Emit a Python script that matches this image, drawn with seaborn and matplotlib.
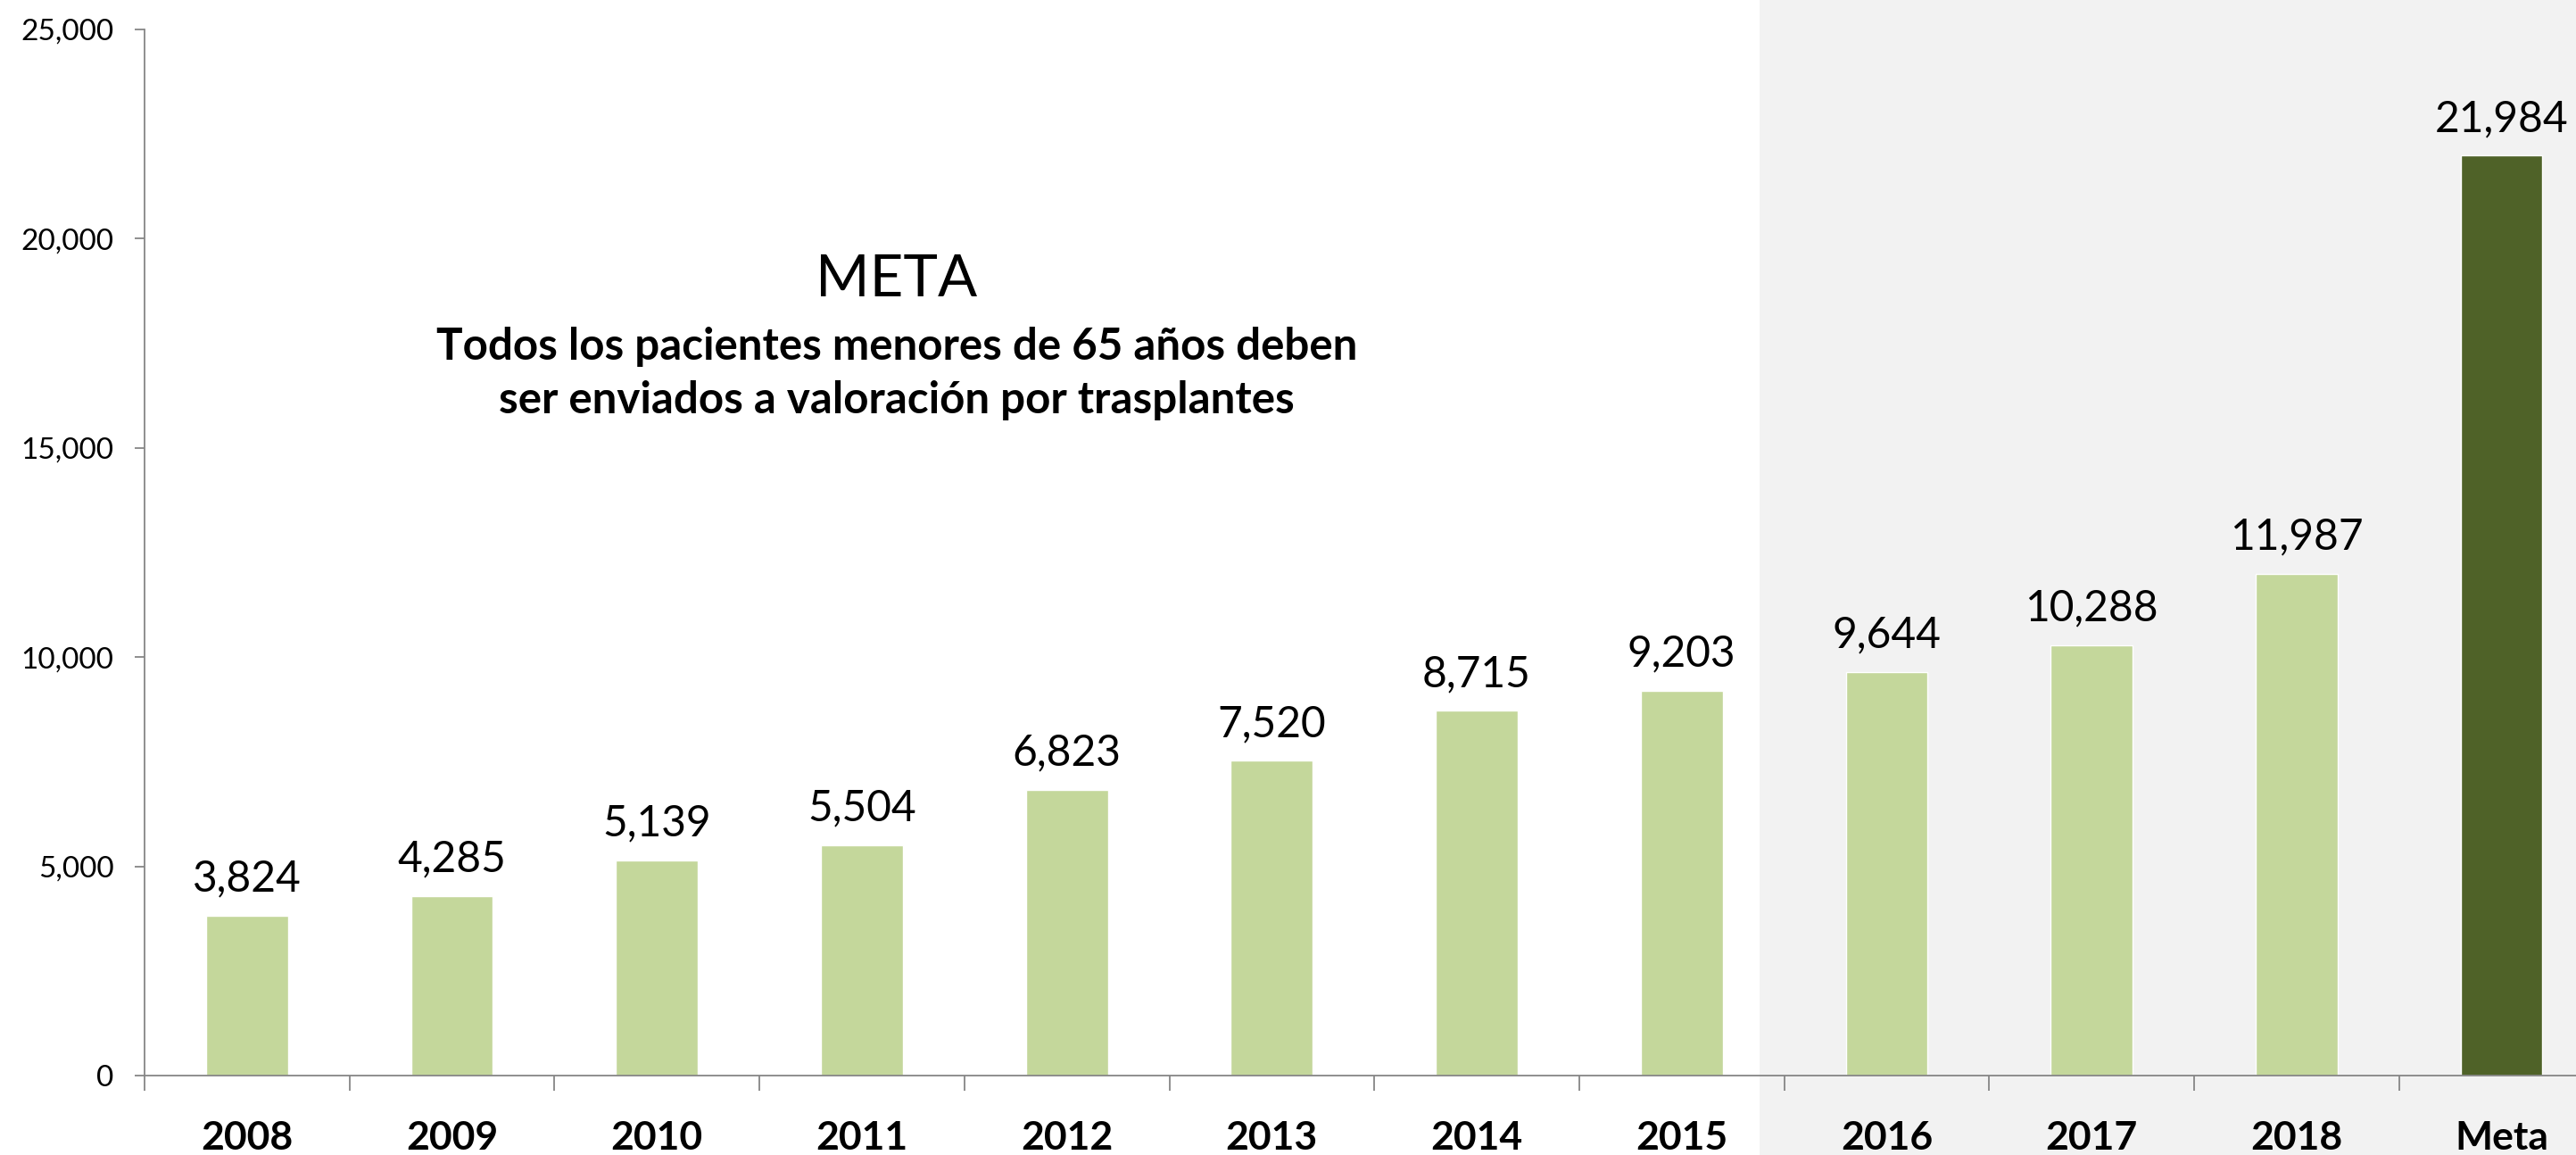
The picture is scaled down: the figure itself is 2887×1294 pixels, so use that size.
import matplotlib
matplotlib.use("Agg")
import matplotlib.pyplot as plt
from matplotlib.patches import Rectangle
from matplotlib.ticker import FuncFormatter, FixedLocator
import seaborn as sns
import pandas as pd

categories = ["2008", "2009", "2010", "2011", "2012", "2013", "2014", "2015",
              "2016", "2017", "2018", "Meta"]
values = [3824, 4285, 5139, 5504, 6823, 7520, 8715, 9203, 9644, 10288, 11987, 21984]
bar_colors = ["#C4D79B"] * 11 + ["#4F6228"]
title_text = "META"
subtitle_lines = ["Todos los pacientes menores de 65 años deben",
                  "ser enviados a valoración por trasplantes"]

sns.set_theme(style="white")
plt.rcParams["font.family"] = ["Lato", "DejaVu Sans"]

W, H = 2887, 1294
fig = plt.figure(figsize=(W / 100, H / 100), dpi=100)
fig.patch.set_facecolor("white")

# shaded background panel on the right
panel = Rectangle((1972 / W, 0), (W - 1972) / W, 1, transform=fig.transFigure,
                  facecolor="#F2F2F2", edgecolor="none", zorder=-5)
fig.patches.append(panel)

ax = fig.add_axes([162 / W, 89 / H, 2756.4 / W, 1172 / H])
ax.set_facecolor("none")
ax.set_zorder(2)

df = pd.DataFrame({"cat": categories, "val": values})
sns.barplot(data=df, x="cat", y="val", hue="cat", palette=bar_colors, width=0.4,
            legend=False, ax=ax, saturation=1)

ax.set_xlim(-0.5, len(categories) - 0.5)
ax.set_ylim(0, 25000)
ax.set_yticks(range(0, 25001, 5000))
ax.yaxis.set_major_formatter(FuncFormatter(lambda v, p: f"{int(v):,}"))
ax.set_xlabel("")
ax.set_ylabel("")

for s in ["top", "right"]:
    ax.spines[s].set_visible(False)
for s in ["left", "bottom"]:
    ax.spines[s].set_color("#868686")
    ax.spines[s].set_linewidth(1.3)

ax.tick_params(axis="y", which="major", left=True, length=8, width=1.3, color="#868686",
               pad=17, labelsize=24, labelcolor="black")
ax.tick_params(axis="x", which="major", bottom=True, length=0, pad=36, labelsize=32,
               labelcolor="black")
ax.xaxis.set_minor_locator(FixedLocator([i - 0.5 for i in range(len(categories) + 1)]))
ax.tick_params(axis="x", which="minor", bottom=True, length=12, width=1.3, color="#868686")
for lab in ax.get_xticklabels():
    lab.set_fontweight("bold")

for cont in ax.containers:
    ax.bar_label(cont, labels=[f"{int(v):,}" for v in cont.datavalues], padding=14,
                 fontsize=34.5, color="black")

fig.text(1005 / W, (H - 332) / H, title_text, ha="center", va="baseline", fontsize=47,
         color="black")
for i, line in enumerate(subtitle_lines):
    fig.text(1005 / W, (H - 403 - 60 * i) / H, line, ha="center", va="baseline",
             fontsize=35.5, fontweight="bold", color="black")

fig.savefig("out.png", dpi=100, facecolor=fig.get_facecolor())
